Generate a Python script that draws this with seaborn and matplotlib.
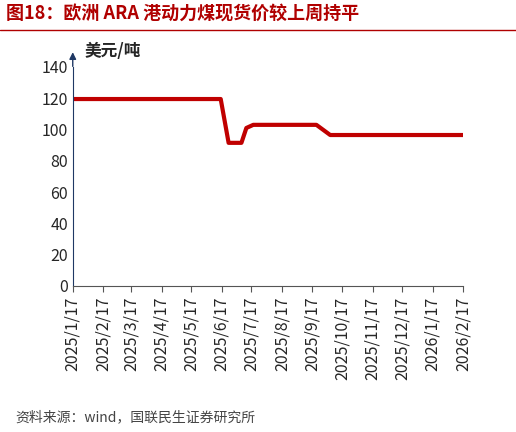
import matplotlib
matplotlib.use("Agg")
import matplotlib.pyplot as plt
import seaborn as sns
import pandas as pd

dates = ["2025-01-17", "2025-06-16", "2025-06-24", "2025-07-07", "2025-07-12",
         "2025-07-19", "2025-09-21", "2025-10-05", "2026-02-17"]
prices = [119.5, 119.5, 91.5, 91.5, 101, 103, 103, 96.5, 96.5]
tick_dates = pd.date_range("2025-01-01", "2026-02-17", freq="MS") + pd.Timedelta(days=16)
tick_labels = [f"{d.year}/{d.month}/{d.day}" for d in tick_dates]

df = pd.DataFrame({"date": pd.to_datetime(dates), "price": prices})

sns.set_style("white")
plt.rcParams["font.family"] = ["Noto Sans CJK SC", "DejaVu Sans"]

fig = plt.figure(figsize=(5.16, 4.32), dpi=100)
ax = fig.add_axes([0.141, 0.338, 0.757, 0.507])
sns.lineplot(data=df, x="date", y="price", ax=ax, color="#c00000", linewidth=3)

ax.set_ylim(0, 140)
ax.set_yticks(range(0, 141, 20))
ax.set_xlim(pd.Timestamp("2025-01-17"), pd.Timestamp("2026-02-17"))
ax.set_xticks(tick_dates)
ax.set_xticklabels(tick_labels, rotation=90, fontsize=11.5)
ax.tick_params(axis="y", labelsize=11.5, length=0)
ax.tick_params(axis="x", length=4, direction="out", bottom=True, color="#555555")
ax.set_xlabel("")
ax.set_ylabel("")
for s in ["top", "right"]:
    ax.spines[s].set_visible(False)
ax.spines["left"].set_color("#1f3864")
ax.spines["bottom"].set_color("#555555")
ax.annotate("", xy=(0, 1.08), xycoords="axes fraction", xytext=(0, 0.99),
            arrowprops=dict(arrowstyle="-|>", color="#1f3864", lw=1))
ax.text(0.03, 1.05, "美元/吨", transform=ax.transAxes, fontsize=12, fontweight="bold")

fig.text(0.012, 0.955, "图18：欧洲 ARA 港动力煤现货价较上周持平", fontsize=13,
         fontweight="bold", color="#b00000")
fig.add_artist(plt.Line2D([0.0, 1.0], [0.93, 0.93], color="#b00000", lw=1))
fig.text(0.03, 0.025, "资料来源：wind，国联民生证券研究所", fontsize=10, color="#444444")
fig.savefig("out.png", dpi=100)
